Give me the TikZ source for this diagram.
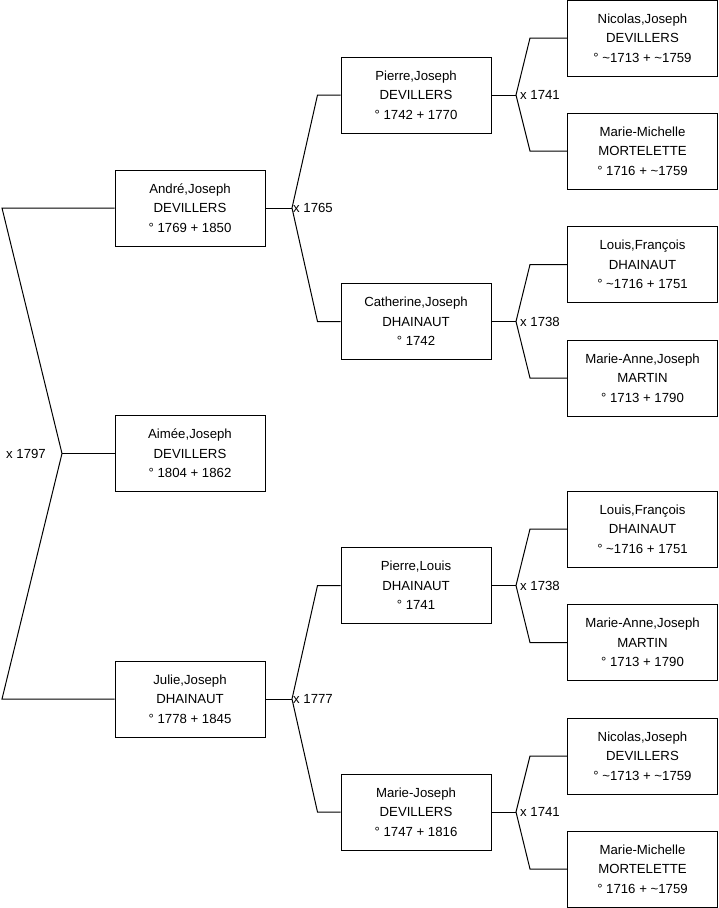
\documentclass[tikz,border=0pt]{standalone}
\usepackage{fontspec}
\setmainfont{Liberation Sans}
\newcommand{\tld}{\textasciitilde}
\begin{document}
\begin{tikzpicture}[x=1pt,y=-1pt,
  person/.style={draw=black,line width=1pt,rectangle,minimum width=150pt,minimum height=76pt,inner sep=0pt,align=center,font=\fontsize{13.2}{19.5}\selectfont},
  link/.style={draw=black,line width=1pt},
  mlabel/.style={font=\fontsize{13.2}{15}\selectfont,inner sep=0pt}]
\useasboundingbox (0,0) rectangle (719,908);
% level 1
\node[person] (andre) at (190,208) {André,Joseph\\DEVILLERS\\° 1769 + 1850};
\node[person] (aimee) at (190,453.5) {Aimée,Joseph\\DEVILLERS\\° 1804 + 1862};
\node[person] (julie) at (190,699) {Julie,Joseph\\DHAINAUT\\° 1778 + 1845};
% level 2
\node[person] (pierrej) at (416,95) {Pierre,Joseph\\DEVILLERS\\° 1742 + 1770};
\node[person] (cath) at (416,321.5) {Catherine,Joseph\\DHAINAUT\\° 1742};
\node[person] (pierrel) at (416,585.5) {Pierre,Louis\\DHAINAUT\\° 1741};
\node[person] (marjo) at (416,812) {Marie-Joseph\\DEVILLERS\\° 1747 + 1816};
% level 3
\node[person] (nic1) at (642.5,38) {Nicolas,Joseph\\DEVILLERS\\° \tld1713 + \tld1759};
\node[person] (mm1) at (642.5,151) {Marie-Michelle\\MORTELETTE\\° 1716 + \tld1759};
\node[person] (lf1) at (642.5,264.5) {Louis,François\\DHAINAUT\\° \tld1716 + 1751};
\node[person] (ma1) at (642.5,378) {Marie-Anne,Joseph\\MARTIN\\° 1713 + 1790};
\node[person] (lf2) at (642.5,529) {Louis,François\\DHAINAUT\\° \tld1716 + 1751};
\node[person] (ma2) at (642.5,642.5) {Marie-Anne,Joseph\\MARTIN\\° 1713 + 1790};
\node[person] (nic2) at (642.5,756) {Nicolas,Joseph\\DEVILLERS\\° \tld1713 + \tld1759};
\node[person] (mm2) at (642.5,869) {Marie-Michelle\\MORTELETTE\\° 1716 + \tld1759};
% fork for Aimee
\coordinate (f0) at (62,453.5);
\coordinate (l0a) at (2,208);
\coordinate (l0b) at (2,699);
\draw[link] (andre.west) -- (l0a) -- (f0) -- (l0b) -- (julie.west);
\draw[link] (f0) -- (aimee.west);
\node[mlabel,anchor=east] (lab0) at (46,453.5) {x 1797};
% level 2 forks
\coordinate (f1) at (292,208);
\draw[link] (andre.east) -- (f1);
\draw[link] (pierrej.west) -- ++(-23,0) -- (f1) -- ([xshift=-23pt]cath.west) -- (cath.west);
\node[mlabel,anchor=west] (lab1) at (293,208) {x 1765};
\coordinate (f2) at (292,699);
\draw[link] (julie.east) -- (f2);
\draw[link] (pierrel.west) -- ++(-23,0) -- (f2) -- ([xshift=-23pt]marjo.west) -- (marjo.west);
\node[mlabel,anchor=west] (lab2) at (293,699) {x 1777};
% level 3 forks
\coordinate (g1) at (516,95);
\draw[link] (pierrej.east) -- (g1);
\draw[link] (nic1.west) -- ++(-37,0) -- (g1) -- ([xshift=-37pt]mm1.west) -- (mm1.west);
\node[mlabel,anchor=west] (lab3) at (520,95) {x 1741};
\coordinate (g2) at (516,321.5);
\draw[link] (cath.east) -- (g2);
\draw[link] (lf1.west) -- ++(-37,0) -- (g2) -- ([xshift=-37pt]ma1.west) -- (ma1.west);
\node[mlabel,anchor=west] (lab4) at (520,321.5) {x 1738};
\coordinate (g3) at (516,585.5);
\draw[link] (pierrel.east) -- (g3);
\draw[link] (lf2.west) -- ++(-37,0) -- (g3) -- ([xshift=-37pt]ma2.west) -- (ma2.west);
\node[mlabel,anchor=west] (lab5) at (520,585.5) {x 1738};
\coordinate (g4) at (516,812);
\draw[link] (marjo.east) -- (g4);
\draw[link] (nic2.west) -- ++(-37,0) -- (g4) -- ([xshift=-37pt]mm2.west) -- (mm2.west);
\node[mlabel,anchor=west] (lab6) at (520,812) {x 1741};
\end{tikzpicture}
\end{document}
